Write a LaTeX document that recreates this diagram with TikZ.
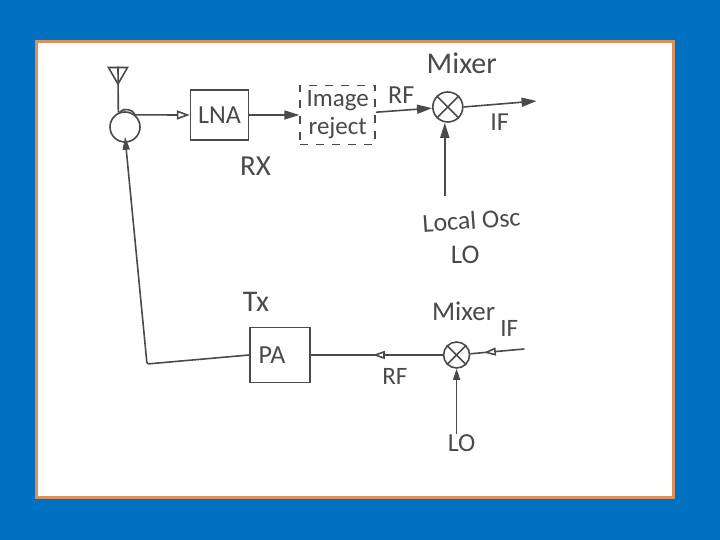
\documentclass[tikz,border=0pt]{standalone}
\usepackage{fontspec}
\setmainfont{Carlito}
\usepackage{xcolor}
\usetikzlibrary{shapes.geometric, arrows.meta, positioning, decorations.markings}
\definecolor{slideblue}{HTML}{0070C0}
\definecolor{panelrim}{HTML}{D8935C}
\definecolor{pencil}{HTML}{4A4A4A}

\begin{document}
\begin{tikzpicture}[
    x=1pt, y=1pt,
    line width=1.6pt, draw=pencil,
    block/.style={draw=pencil, minimum width=#1, inner sep=0pt, font=\fontsize{26}{28}\selectfont, text=pencil},
    ring/.style={draw=pencil, circle, inner sep=0pt, minimum size=#1},
    note/.style={font=\fontsize{#1}{30}\selectfont, text=pencil, inner sep=0pt},
    note/.default=27,
    wire/.style={draw=pencil},
    solidtip/.style={wire, -{Triangle[length=15pt, width=9pt]}},
    opentip/.style={wire, -{Triangle[open, fill=white, length=13pt, width=9pt]}},
    midtip/.style={wire, postaction={decorate}, decoration={markings, mark=at position #1 with {\arrow{Triangle[fill=white, length=12pt, width=8pt]}}}},
  ]
  \useasboundingbox (0,0) rectangle (720,540);

  % Slide background
  \fill[slideblue] (0,0) rectangle (720,540);
  \draw[panelrim, line width=3pt, fill=white] (36,42) rectangle (673,498);

  % Receive chain
  \node[ring=30pt] (circ) at (125,413) {};
  \node[block=58pt, minimum height=50pt, right=49pt of circ.east, anchor=west, yshift=12pt] (lna) {LNA};
  \node[block=75pt, minimum height=59pt, dash pattern=on 8pt off 8pt, align=center, right=50pt of lna, font=\fontsize{25}{28}\selectfont] (image) {Image\\reject};
  \node[ring=30pt, right=56pt of image, yshift=8pt] (mixrx) {};
  \coordinate[right=73pt of mixrx, yshift=6pt] (ifrx);
  \coordinate[below=73pt of mixrx, xshift=-3pt] (lotail);

  % Antenna
  \node[draw=pencil, regular polygon, regular polygon sides=3, shape border rotate=180, minimum size=22pt, inner sep=0pt] (ant) at (118,467) {};
  \draw[wire] (ant.north) -- (circ.115);

  % Transmit chain
  \node[block=60pt, minimum height=55pt] (pa) at (280,185) {PA\hspace*{16pt}};
  \node[ring=26pt, right=132pt of pa] (mixtx) {};
  \coordinate[right=54pt of mixtx, yshift=6pt] (iftx);
  \coordinate (corner) at (147,176);
  \coordinate[above=6pt of circ.south] (circin);

  % Mixer crosses
  \foreach \m in {mixrx, mixtx} {
    \draw[wire] (\m.45) -- (\m.225);
    \draw[wire] (\m.135) -- (\m.315);
  }

  % Labels
  \node[note=29, below=15pt of lna, xshift=36pt] (rx) {RX};
  \node[note=30, above=17pt of mixrx, xshift=14pt] (mixrxname) {Mixer};
  \node[note=26, above left=3pt and 17pt of mixrx.west] (rfrx) {RF};
  \node[note=26, below=6pt of mixrx.east, xshift=36pt] (ifrxname) {IF};
  \node[note=26, rotate=4, below=89pt of mixrx, xshift=23pt] (locosc) {Local Osc};
  \node[note, below=15pt of locosc, xshift=-7pt] (lorx) {LO};
  \node[note=30, above=14pt of pa, xshift=-24pt] (tx) {Tx};
  \node[note=25, below=13pt of pa.east, xshift=84pt] (rftx) {RF};
  \node[note=27, above=20pt of mixtx, xshift=7pt] (mixtxname) {Mixer};
  \node[note=25, above right=4pt and 43pt of mixtx.north] (iftxname) {IF};
  \node[note=26, below=65pt of mixtx, xshift=5pt] (lotx) {LO};

  % Arrows - receive chain
  \draw[opentip] (circ.50) -- (lna.west);
  \draw[solidtip] (lna) -- (image);
  \draw[solidtip] (image) -- (mixrx);
  \draw[solidtip] (mixrx.east) -- (ifrx);
  \draw[solidtip] (lotail) -- (lotail |- mixrx.south);
  \draw[wire] (circ.110) to[bend left=60] (circ.50);

  % Arrows - transmit chain
  \draw[midtip=0.53] (mixtx) -- (pa);
  \draw[midtip=0.75] (iftx) -- (mixtx);
  \draw[solidtip, -{Triangle[length=11pt, width=7pt]}] (lotx.north -| mixtx.south) -- (mixtx.south);
  \draw[wire, -{Triangle[length=13pt, width=7pt]}, rounded corners=2pt] (pa.west) -- (corner) -- (circin);

\end{tikzpicture}
\end{document}
